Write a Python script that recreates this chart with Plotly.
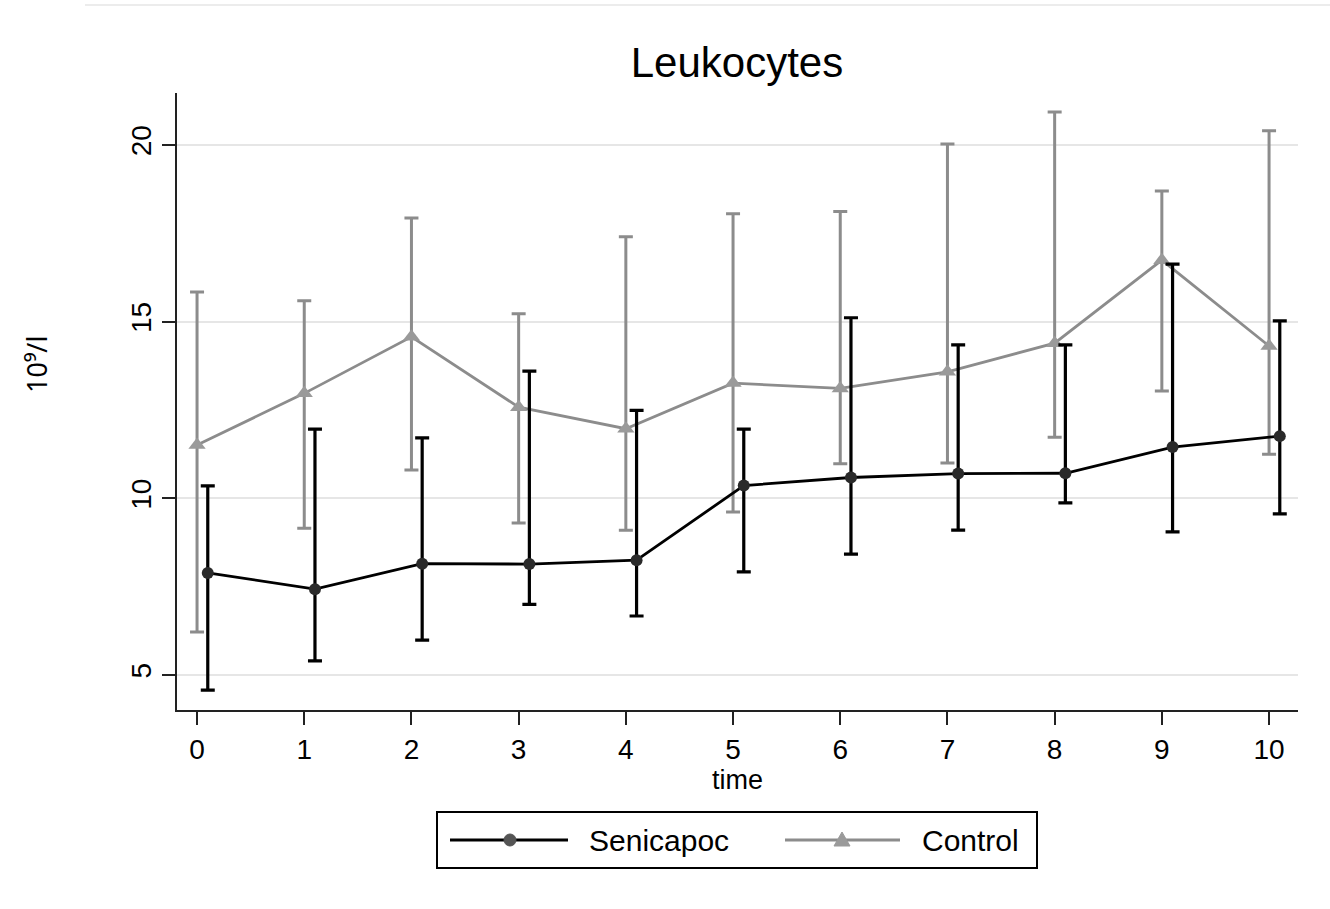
import plotly.graph_objects as go

# ---- data ----
time = [0, 1, 2, 3, 4, 5, 6, 7, 8, 9, 10]
seni_offset = 0.1
seni_mean = [7.89, 7.43, 8.15, 8.14, 8.25, 10.36, 10.59, 10.70, 10.71, 11.45, 11.76]
seni_upper = [10.35, 11.96, 11.71, 13.60, 12.49, 11.96, 15.11, 14.34, 14.34, 16.63, 15.02]
seni_lower = [4.57, 5.40, 5.99, 7.00, 6.67, 7.92, 8.42, 9.10, 9.87, 9.05, 9.56]
ctrl_mean = [11.51, 12.97, 14.57, 12.58, 11.97, 13.26, 13.11, 13.58, 14.39, 16.74, 14.31]
ctrl_upper = [15.84, 15.59, 17.93, 15.22, 17.40, 18.05, 18.12, 20.03, 20.93, 18.70, 20.40]
ctrl_lower = [6.22, 9.15, 10.80, 9.30, 9.10, 9.61, 10.98, 11.00, 11.73, 13.04, 11.25]
y_ticks = [5, 10, 15, 20]
x_ticks = time

FONT = "Liberation Sans, Arial, sans-serif"
BLACK = "#000000"
GRAY = "#8c8c8c"

seni_x = [t + seni_offset for t in time]

fig = go.Figure()
fig.add_trace(go.Scatter(
    x=time, y=ctrl_mean, name="Control", mode="lines+markers",
    line=dict(color=GRAY, width=2.8),
    marker=dict(symbol="triangle-up", size=15, color="#9a9a9a"),
    error_y=dict(type="data", symmetric=False,
                 array=[u - m for u, m in zip(ctrl_upper, ctrl_mean)],
                 arrayminus=[m - l for m, l in zip(ctrl_mean, ctrl_lower)],
                 color=GRAY, thickness=3, width=7),
    showlegend=False,
))
fig.add_trace(go.Scatter(
    x=seni_x, y=seni_mean, name="Senicapoc", mode="lines+markers",
    line=dict(color=BLACK, width=2.8),
    marker=dict(symbol="circle", size=12, color="#2a2a2a"),
    error_y=dict(type="data", symmetric=False,
                 array=[u - m for u, m in zip(seni_upper, seni_mean)],
                 arrayminus=[m - l for m, l in zip(seni_mean, seni_lower)],
                 color=BLACK, thickness=3.2, width=7),
    showlegend=False,
))

# layout geometry (pixels)
W, H = 1330, 909
L, R, T, B = 177, 32, 93, 199
PW, PH = W - L - R, H - T - B


def px(xp):
    return (xp - L) / PW


def py(yp):
    return (H - B - yp) / PH


shapes = []
# faint page rule at the top
shapes.append(dict(type="line", xref="paper", yref="paper",
                   x0=px(85), x1=px(1330), y0=py(5), y1=py(5),
                   line=dict(color="#ececec", width=2)))
# custom legend box
shapes.append(dict(type="rect", xref="paper", yref="paper",
                   x0=px(437), x1=px(1037), y0=py(868), y1=py(812),
                   line=dict(color="#000000", width=2), fillcolor="white"))
shapes.append(dict(type="line", xref="paper", yref="paper",
                   x0=px(450), x1=px(568), y0=py(840), y1=py(840),
                   line=dict(color=BLACK, width=2.8)))
shapes.append(dict(type="circle", xref="paper", yref="paper",
                   xsizemode="pixel", ysizemode="pixel",
                   xanchor=px(510), yanchor=py(840),
                   x0=-6, x1=6, y0=-6, y1=6,
                   line=dict(color="#555555", width=1), fillcolor="#555555"))
shapes.append(dict(type="line", xref="paper", yref="paper",
                   x0=px(785), x1=px(900), y0=py(840), y1=py(840),
                   line=dict(color=GRAY, width=2.8)))
shapes.append(dict(type="path", xref="paper", yref="paper",
                   xsizemode="pixel", ysizemode="pixel",
                   xanchor=px(842), yanchor=py(840),
                   path="M -8 -6 L 8 -6 L 0 8 Z",
                   line=dict(color="#9a9a9a", width=1), fillcolor="#9a9a9a"))

annotations = [
    dict(text="Senicapoc", xref="paper", yref="paper", x=px(587), y=py(840),
         xanchor="left", yanchor="middle", showarrow=False,
         font=dict(family=FONT, size=30, color="#000000")),
    dict(text="Control", xref="paper", yref="paper", x=px(920), y=py(840),
         xanchor="left", yanchor="middle", showarrow=False,
         font=dict(family=FONT, size=30, color="#000000")),
    dict(text="10⁹/l", xref="paper", yref="paper", x=px(36), y=py(365),
         xanchor="center", yanchor="middle", showarrow=False, textangle=-90,
         font=dict(family="Noto Sans, DejaVu Sans, sans-serif", size=27, color="#000000")),
]

fig.update_layout(
    width=W, height=H,
    margin=dict(l=L, r=R, t=T, b=B, pad=0),
    paper_bgcolor="white", plot_bgcolor="white",
    title=dict(text="Leukocytes", x=px(737), xref="paper", xanchor="center",
               y=1 - 62 / H, yref="container", yanchor="middle",
               font=dict(family=FONT, size=42, color="#000000")),
    shapes=shapes,
    annotations=annotations,
    showlegend=False,
    xaxis=dict(
        range=[-0.187, 10.27], tickmode="array", tickvals=x_ticks,
        ticktext=[str(v) for v in x_ticks],
        showgrid=False, zeroline=False, showline=True, linecolor="#222222", linewidth=2,
        ticks="outside", ticklen=13, tickwidth=2, tickcolor="#222222",
        tickfont=dict(family=FONT, size=28, color="#000000"),
        title=dict(text="time", standoff=2, font=dict(family=FONT, size=27, color="#000000")),
    ),
    yaxis=dict(
        range=[4.01, 21.47], tickmode="array", tickvals=y_ticks,
        ticktext=[str(v) for v in y_ticks], tickangle=-90,
        showgrid=True, gridcolor="#e6e6e6", gridwidth=2,
        zeroline=False, showline=True, linecolor="#222222", linewidth=2,
        ticks="outside", ticklen=13, tickwidth=2, tickcolor="#222222",
        tickfont=dict(family=FONT, size=28, color="#000000"),
    ),
)

fig.write_html("out.html", config={"displayModeBar": False})
